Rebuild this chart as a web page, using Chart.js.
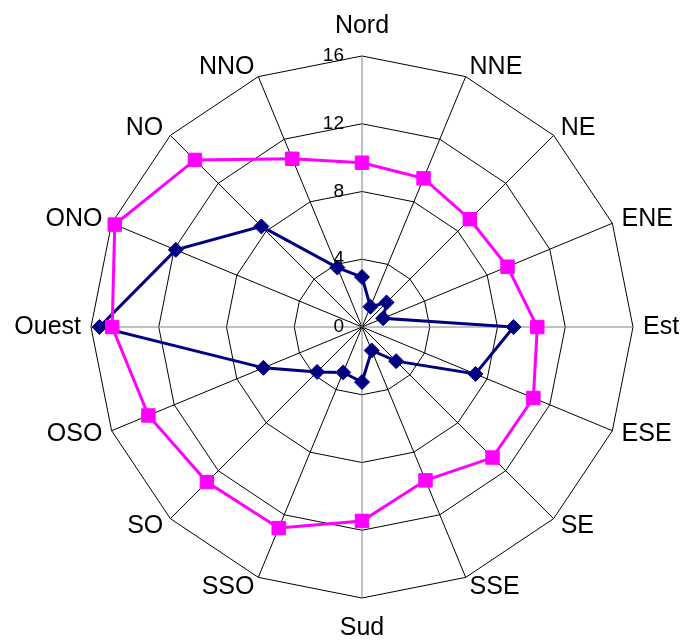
<!DOCTYPE html>
<html>
<head>
<meta charset="utf-8">
<script src="https://cdn.jsdelivr.net/npm/chart.js@4.4.0/dist/chart.umd.min.js"></script>
<style>
  html, body { margin: 0; padding: 0; background: #fff; }
  #wrap { width: 690px; height: 642px; position: relative; }
</style>
</head>
<body>
<div id="wrap"><canvas id="windChart"></canvas></div>
<script>
const directions = ['Nord', 'NNE', 'NE', 'ENE', 'Est', 'ESE', 'SE', 'SSE', 'Sud', 'SSO', 'SO', 'OSO', 'Ouest', 'ONO', 'NO', 'NNO'];
const pinkValues = [9.7, 9.5, 9.0, 9.3, 10.35, 10.95, 10.9, 9.8, 11.45, 12.85, 12.95, 13.65, 14.75, 15.8, 13.95, 10.75];
const navyValues = [2.95, 1.3, 2.05, 1.35, 8.95, 7.25, 2.85, 1.5, 3.25, 2.9, 3.75, 6.3, 15.5, 11.9, 8.4, 3.8];
const tickValues = [0, 4, 8, 12, 16];

const FONT = '"Liberation Sans", Arial, sans-serif';

// Excel style labels: ticks left of the north axis, names around the outer ring
const labelPlugin = {
    id: 'excelLabels',
    afterDraw(chart) {
        const scale = chart.scales.r;
        const ctx = chart.ctx;
        ctx.save();
        ctx.fillStyle = '#000';

        ctx.font = '19px ' + FONT;
        ctx.textAlign = 'right';
        ctx.textBaseline = 'middle';
        tickValues.forEach(v => {
            const d = scale.getDistanceFromCenterForValue(v);
            ctx.fillText(String(v), scale.xCenter - 18, scale.yCenter - d);
        });

        ctx.font = '25px ' + FONT;
        directions.forEach((name, i) => {
            const p = scale.getPointPosition(i, scale.drawingArea + 10);
            const a = scale.getIndexAngle(i);
            const s = Math.sin(a), c = Math.cos(a);
            let y = p.y;
            if (Math.abs(s) < 0.01) {
                ctx.textAlign = 'center';
                y += c > 0 ? -20 : 20;
            } else {
                ctx.textAlign = s > 0 ? 'left' : 'right';
            }
            ctx.fillText(name, p.x, y);
        });
        ctx.restore();
    }
};

const ctx = document.getElementById('windChart').getContext('2d');
const windChart = new Chart(ctx, {
    type: 'radar',
    data: {
        labels: directions,
        datasets: [{
            data: pinkValues,
            order: 1,
            borderColor: '#FF00FF',
            backgroundColor: '#FF00FF',
            borderWidth: 3,
            fill: false,
            tension: 0,
            pointStyle: 'rect',
            pointRadius: 9.5,
            pointBorderWidth: 1,
            pointBorderColor: '#FF00FF',
            pointBackgroundColor: '#FF00FF'
        }, {
            data: navyValues,
            order: 2,
            borderColor: '#000080',
            backgroundColor: '#000080',
            borderWidth: 3,
            fill: false,
            tension: 0,
            pointStyle: 'rectRot',
            pointRadius: 7.5,
            pointBorderWidth: 1,
            pointBorderColor: '#000080',
            pointBackgroundColor: '#000080'
        }]
    },
    options: {
        responsive: true,
        maintainAspectRatio: false,
        animation: false,
        layout: {
            padding: { left: 91, right: 57, top: 56, bottom: 44 }
        },
        plugins: {
            legend: { display: false },
            tooltip: { enabled: false }
        },
        scales: {
            r: {
                min: 0,
                max: 16,
                ticks: { display: false, stepSize: 4 },
                grid: { color: '#000', lineWidth: 1, circular: false },
                angleLines: {
                    color: c => c.index % 4 === 0 ? '#808080' : '#000',
                    lineWidth: 1
                },
                pointLabels: { display: false }
            }
        }
    },
    plugins: [labelPlugin]
});
</script>
</body>
</html>
